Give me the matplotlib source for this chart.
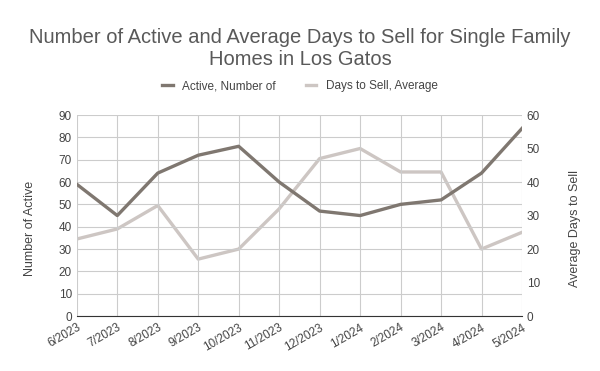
import matplotlib
matplotlib.use("Agg")
import matplotlib.pyplot as plt

plt.rcParams['font.family'] = ['Liberation Sans', 'DejaVu Sans']

months = ["6/2023", "7/2023", "8/2023", "9/2023", "10/2023", "11/2023",
          "12/2023", "1/2024", "2/2024", "3/2024", "4/2024", "5/2024"]
active = [59, 45, 64, 72, 76, 60, 47, 45, 50, 52, 64, 84]
days_to_sell = [23, 26, 33, 17, 20, 32, 47, 50, 43, 43, 20, 25]

active_color = "#7f7770"
days_color = "#cdc6c3"
text_color = "#444444"

fig = plt.figure(figsize=(6, 3.71), dpi=100)
ax = fig.add_axes([0.128, 0.148, 0.742, 0.542])
ax2 = ax.twinx()

x = range(len(months))
l1, = ax.plot(x, active, color=active_color, lw=2.4, label="Active, Number of", zorder=3)
l2, = ax2.plot(x, days_to_sell, color=days_color, lw=2.4, label="Days to Sell, Average", zorder=2)

ax.set_xlim(0, len(months) - 1)
ax.set_ylim(0, 90)
ax.set_yticks(range(0, 91, 10))
ax2.set_ylim(0, 60)
ax2.set_yticks(range(0, 61, 10))

ax.set_xticks(list(x))
ax.set_xticklabels(months, rotation=30, ha="right", rotation_mode="anchor")
ax.grid(True, color="#cccccc", lw=0.8)
ax.set_axisbelow(True)

for a in (ax, ax2):
    for s in a.spines.values():
        s.set_visible(False)
    a.tick_params(length=0, labelsize=8.5, colors=text_color)
ax.spines['bottom'].set_visible(True)
ax.spines['bottom'].set_color("#333333")
ax.tick_params(axis='x', pad=4)

ax.set_ylabel("Number of Active", fontsize=9, color=text_color)
ax2.set_ylabel("Average Days to Sell", fontsize=9, color=text_color)
ax.yaxis.set_label_coords(-0.092, 0.435)
ax2.yaxis.set_label_coords(1.105, 0.435)

# Put active line above the days line
ax.set_zorder(ax2.get_zorder() + 1)
ax.patch.set_visible(False)

fig.suptitle("Number of Active and Average Days to Sell for Single Family\nHomes in Los Gatos",
             fontsize=14.5, color="#595959", y=0.925, linespacing=1.2)
fig.legend(handles=[l1, l2], loc="center", bbox_to_anchor=(0.5, 0.768), ncol=2,
           frameon=False, fontsize=8.5, handlelength=0.9, handletextpad=0.8,
           columnspacing=2.5, labelcolor=text_color)

fig.savefig("out.png", dpi=100)
